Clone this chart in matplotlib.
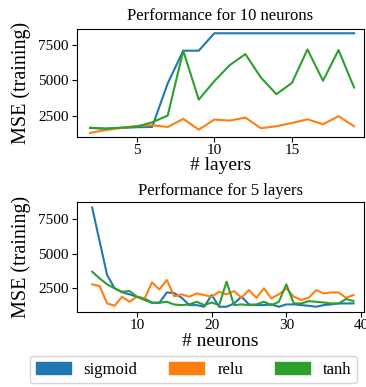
import matplotlib
matplotlib.use("Agg")
import matplotlib.pyplot as plt
import matplotlib.patches as mpatches

plt.rcParams['font.family'] = ['Liberation Serif', 'DejaVu Serif']

layers = list(range(2, 20))
layers_sigmoid = [1650, 1600, 1650, 1700, 1720, 4790, 7100, 7100, 8330, 8330, 8330, 8330,
                  8330, 8330, 8330, 8330, 8330, 8330]
layers_relu = [1300, 1500, 1650, 1800, 1840, 1720, 2290, 1530, 2240, 2170, 2380, 1630,
               1770, 2000, 2260, 1910, 2480, 1770]
layers_tanh = [1670, 1600, 1670, 1740, 2050, 2520, 7100, 3650, 4950, 6085, 6860, 5210,
               4030, 4830, 7190, 4980, 7150, 4500]

neurons = list(range(4, 40))
neurons_sigmoid = [8350, 5900, 3450, 2480, 2200, 2040, 1870, 1750, 1430, 1430, 2180, 2130,
                   1790, 1260, 1260, 1140, 1990, 1140, 1140, 1380, 1870, 1310, 1260, 1260,
                   1310, 1140, 1310, 1310, 1260, 1210, 1140, 1260, 1310, 1380, 1380, 1380]
neurons_relu = [2770, 2650, 1380, 1210, 1870, 1500, 1870, 1700, 2910, 2400, 3080, 1900,
                2040, 1870, 2110, 1990, 1870, 2230, 2040, 2280, 1790, 2350, 1790, 2480,
                1750, 2040, 2480, 1870, 1630, 1790, 2350, 2110, 2180, 2180, 1790, 1990]
neurons_tanh = [3690, 3200, 2770, 2480, 2230, 2280, 1870, 1630, 1430, 1430, 1500, 1300,
                1260, 1310, 1500, 1260, 1450, 1260, 2960, 1260, 1310, 1260, 1310, 1500,
                1260, 1500, 2770, 1380, 1380, 1550, 1500, 1450, 1380, 1380, 1700, 1550]

names = ['sigmoid', 'relu', 'tanh']
colors = ['#1f77b4', '#ff7f0e', '#2ca02c']

W, H = 366, 387
fig = plt.figure(figsize=(W / 100, H / 100), dpi=100)

ax1 = fig.add_axes([77 / W, 1 - 137.3 / H, (364 - 77) / W, (137.3 - 29.3) / H])
ax2 = fig.add_axes([77 / W, 1 - 311.7 / H, (364 - 77) / W, (311.7 - 202.3) / H])

for ys, c in zip([layers_sigmoid, layers_relu, layers_tanh], colors):
    ax1.plot(layers, ys, color=c, lw=1.5)
for ys, c in zip([neurons_sigmoid, neurons_relu, neurons_tanh], colors):
    ax2.plot(neurons, ys, color=c, lw=1.5)

ax1.set_xlim(1.16, 19.64)
ax2.set_xlim(1.97, 40.4)
ax1.set_ylim(990, 8610)
ax2.set_ylim(780, 8730)

ax1.set_title('Performance for 10 neurons', fontsize=12, pad=6.5)
ax2.set_title('Performance for 5 layers', fontsize=12, pad=5.5)
ax1.set_xlabel('# layers', fontsize=14, labelpad=0)
ax2.set_xlabel('# neurons', fontsize=14, labelpad=1)
for ax in (ax1, ax2):
    ax.set_ylabel('MSE (training)', fontsize=14.5, labelpad=5)
    ax.set_yticks([2500, 5000, 7500])
    ax.tick_params(labelsize=11, pad=2.5)
    ax.tick_params(axis='x', pad=1.5)
ax1.set_xticks([5, 10, 15])
ax2.set_xticks([10, 20, 30, 40])

handles = [mpatches.Patch(color=c, label=n) for c, n in zip(colors, names)]
fig.legend(handles=handles, loc='center', bbox_to_anchor=(193.5 / W, 1 - 369.5 / H),
           ncol=3, fontsize=12, handlelength=2.1, handleheight=0.72, columnspacing=1.9,
           handletextpad=0.78, borderpad=0.35, borderaxespad=0, frameon=True)

fig.savefig('out.png', dpi=100)
